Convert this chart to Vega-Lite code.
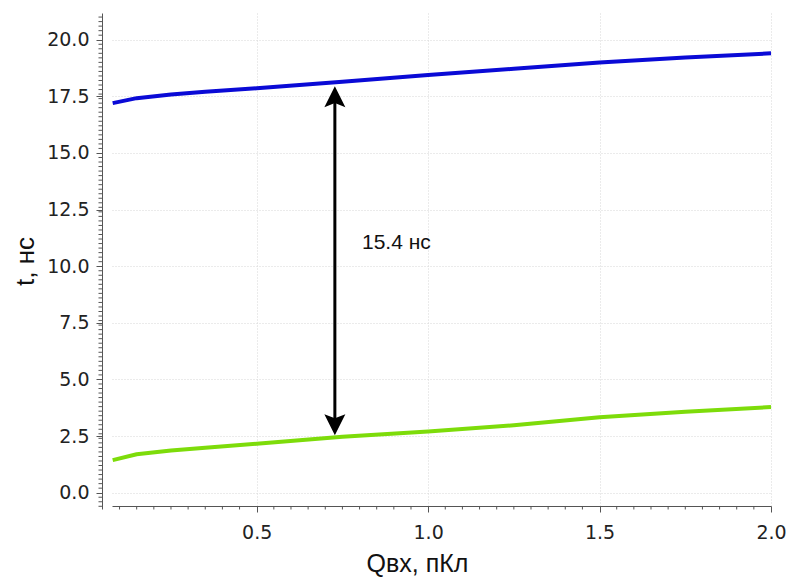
{
  "$schema": "https://vega.github.io/schema/vega-lite/v6.json",
  "width": 659,
  "height": 496,
  "autosize": "none",
  "padding": {"left": 112, "top": 13, "right": 22, "bottom": 75},
  "background": "white",
  "config": {"view": {"stroke": null}},
  "datasets": {
    "curves": [
      {"q": 0.08, "t": 17.2, "series": "upper"},
      {"q": 0.15, "t": 17.42, "series": "upper"},
      {"q": 0.25, "t": 17.58, "series": "upper"},
      {"q": 0.35, "t": 17.7, "series": "upper"},
      {"q": 0.5, "t": 17.86, "series": "upper"},
      {"q": 0.75, "t": 18.14, "series": "upper"},
      {"q": 1.0, "t": 18.44, "series": "upper"},
      {"q": 1.25, "t": 18.72, "series": "upper"},
      {"q": 1.5, "t": 18.99, "series": "upper"},
      {"q": 1.75, "t": 19.21, "series": "upper"},
      {"q": 2.0, "t": 19.4, "series": "upper"},
      {"q": 0.08, "t": 1.44, "series": "lower"},
      {"q": 0.15, "t": 1.7, "series": "lower"},
      {"q": 0.25, "t": 1.86, "series": "lower"},
      {"q": 0.35, "t": 1.98, "series": "lower"},
      {"q": 0.5, "t": 2.16, "series": "lower"},
      {"q": 0.75, "t": 2.47, "series": "lower"},
      {"q": 1.0, "t": 2.7, "series": "lower"},
      {"q": 1.25, "t": 2.98, "series": "lower"},
      {"q": 1.5, "t": 3.33, "series": "lower"},
      {"q": 1.75, "t": 3.57, "series": "lower"},
      {"q": 2.0, "t": 3.78, "series": "lower"}
    ],
    "arrow": [
      {"q": 0.728, "lo": 2.9, "hi": 17.6}
    ],
    "heads": [
      {"q": 0.728, "t": 17.95, "dir": "up"},
      {"q": 0.728, "t": 2.54, "dir": "down"}
    ],
    "note": [
      {"q": 0.807, "t": 11.02, "label": "15.4 нс"}
    ],
    "xminor": [
      {"v": 0.1},{"v": 0.15},{"v": 0.2},{"v": 0.25},{"v": 0.3},{"v": 0.35},{"v": 0.4},{"v": 0.45},
      {"v": 0.55},{"v": 0.6},{"v": 0.65},{"v": 0.7},{"v": 0.75},{"v": 0.8},{"v": 0.85},{"v": 0.9},{"v": 0.95},
      {"v": 1.05},{"v": 1.1},{"v": 1.15},{"v": 1.2},{"v": 1.25},{"v": 1.3},{"v": 1.35},{"v": 1.4},{"v": 1.45},
      {"v": 1.55},{"v": 1.6},{"v": 1.65},{"v": 1.7},{"v": 1.75},{"v": 1.8},{"v": 1.85},{"v": 1.9},{"v": 1.95}
    ],
    "yminor": [
      {"v": -0.6},{"v": -0.4},{"v": -0.2},{"v": 0.2},{"v": 0.4},{"v": 0.6},{"v": 0.8},{"v": 1},{"v": 1.2},{"v": 1.4},{"v": 1.6},{"v": 1.8},{"v": 2},{"v": 2.2},{"v": 2.4},{"v": 2.6},{"v": 2.8},
      {"v": 3},{"v": 3.2},{"v": 3.4},{"v": 3.6},{"v": 3.8},{"v": 4},{"v": 4.2},{"v": 4.4},{"v": 4.6},{"v": 4.8},{"v": 5.2},{"v": 5.4},{"v": 5.6},{"v": 5.8},
      {"v": 6},{"v": 6.2},{"v": 6.4},{"v": 6.6},{"v": 6.8},{"v": 7},{"v": 7.2},{"v": 7.4},{"v": 7.6},{"v": 7.8},{"v": 8},{"v": 8.2},{"v": 8.4},{"v": 8.6},{"v": 8.8},
      {"v": 9},{"v": 9.2},{"v": 9.4},{"v": 9.6},{"v": 9.8},{"v": 10.2},{"v": 10.4},{"v": 10.6},{"v": 10.8},{"v": 11},{"v": 11.2},{"v": 11.4},{"v": 11.6},{"v": 11.8},
      {"v": 12},{"v": 12.2},{"v": 12.4},{"v": 12.6},{"v": 12.8},{"v": 13},{"v": 13.2},{"v": 13.4},{"v": 13.6},{"v": 13.8},{"v": 14},{"v": 14.2},{"v": 14.4},{"v": 14.6},{"v": 14.8},
      {"v": 15.2},{"v": 15.4},{"v": 15.6},{"v": 15.8},{"v": 16},{"v": 16.2},{"v": 16.4},{"v": 16.6},{"v": 16.8},{"v": 17},{"v": 17.2},{"v": 17.4},{"v": 17.6},{"v": 17.8},
      {"v": 18},{"v": 18.2},{"v": 18.4},{"v": 18.6},{"v": 18.8},{"v": 19},{"v": 19.2},{"v": 19.4},{"v": 19.6},{"v": 19.8},{"v": 20.2},{"v": 20.4},{"v": 20.6},{"v": 20.8},{"v": 21}
    ]
  },
  "layer": [
    {
      "data": {"name": "curves"},
      "mark": {"type": "line", "strokeWidth": 4, "strokeCap": "butt", "strokeJoin": "round"},
      "encoding": {
        "x": {
          "field": "q", "type": "quantitative",
          "scale": {"domain": [0.078, 2.0], "nice": false, "zero": false},
          "axis": {
            "orient": "bottom", "offset": -3,
            "values": [0.5, 1.0, 1.5, 2.0], "format": ".1f",
            "domain": true, "domainColor": "#555", "domainWidth": 1,
            "ticks": true, "tickColor": "#555", "tickSize": 6, "tickWidth": 1,
            "labelFont": "DejaVu Sans", "labelFontSize": 19, "labelColor": "#222", "labelPadding": 11,
            "labelFlush": false,
            "grid": true, "gridColor": "#d6d6d6", "gridDash": [1, 2], "gridWidth": 1,
            "title": "Qвх, пКл", "titleFont": "Liberation Sans", "titleFontSize": 25,
            "titleFontWeight": "normal", "titleColor": "#111",
            "titleX": 305, "titleY": 65, "titleBaseline": "alphabetic", "titleAlign": "center"
          }
        },
        "y": {
          "field": "t", "type": "quantitative",
          "scale": {"domain": [-0.72, 21.18], "nice": false, "zero": false},
          "axis": {
            "orient": "left", "offset": 10,
            "values": [0, 2.5, 5, 7.5, 10, 12.5, 15, 17.5, 20], "format": ".1f",
            "domain": true, "domainColor": "#555", "domainWidth": 1,
            "ticks": true, "tickColor": "#555", "tickSize": 6, "tickWidth": 1,
            "labelFont": "DejaVu Sans", "labelFontSize": 19, "labelColor": "#222", "labelPadding": 7,
            "labelFlush": false,
            "grid": true, "gridColor": "#d6d6d6", "gridDash": [1, 2], "gridWidth": 1,
            "title": "t, нс", "titleFont": "Liberation Sans", "titleFontSize": 26,
            "titleFontWeight": "normal", "titleColor": "#111",
            "titleAngle": -90, "titleX": -69, "titleY": 248, "titleBaseline": "alphabetic", "titleAlign": "center"
          }
        },
        "color": {
          "field": "series", "type": "nominal",
          "scale": {"domain": ["upper", "lower"], "range": ["#0a0ad6", "#7ddc0a"]},
          "legend": null
        }
      }
    },
    {
      "data": {"name": "yminor"},
      "mark": {"type": "rule", "strokeWidth": 1, "color": "#555", "opacity": 1, "strokeCap": "butt"},
      "encoding": {
        "y": {"field": "v", "type": "quantitative"},
        "x": {"datum": 0.0386, "type": "quantitative"},
        "x2": {"datum": 0.0488}
      }
    },
    {
      "data": {"name": "xminor"},
      "mark": {"type": "rule", "strokeWidth": 1, "color": "#555", "opacity": 1, "strokeCap": "butt"},
      "encoding": {
        "x": {"field": "v", "type": "quantitative"},
        "y": {"datum": -0.5875, "type": "quantitative"},
        "y2": {"datum": -0.742}
      }
    },
    {
      "data": {"name": "arrow"},
      "mark": {"type": "rule", "strokeWidth": 3, "color": "black", "strokeCap": "butt"},
      "encoding": {
        "x": {"field": "q", "type": "quantitative"},
        "y": {"field": "lo", "type": "quantitative"},
        "y2": {"field": "hi"}
      }
    },
    {
      "data": {"name": "heads"},
      "mark": {"type": "point", "filled": true, "color": "black", "opacity": 1, "size": 441, "strokeWidth": 0},
      "encoding": {
        "x": {"field": "q", "type": "quantitative"},
        "y": {"field": "t", "type": "quantitative"},
        "shape": {
          "field": "dir", "type": "nominal",
          "scale": {"domain": ["up", "down"], "range": ["M0,0 L1,2 L0,1.6 L-1,2 Z", "M0,0 L1,-2 L0,-1.6 L-1,-2 Z"]},
          "legend": null
        }
      }
    },
    {
      "data": {"name": "note"},
      "mark": {"type": "text", "align": "left", "baseline": "middle", "font": "Liberation Sans", "fontSize": 21, "color": "#111"},
      "encoding": {
        "x": {"field": "q", "type": "quantitative"},
        "y": {"field": "t", "type": "quantitative"},
        "text": {"field": "label"}
      }
    }
  ]
}
